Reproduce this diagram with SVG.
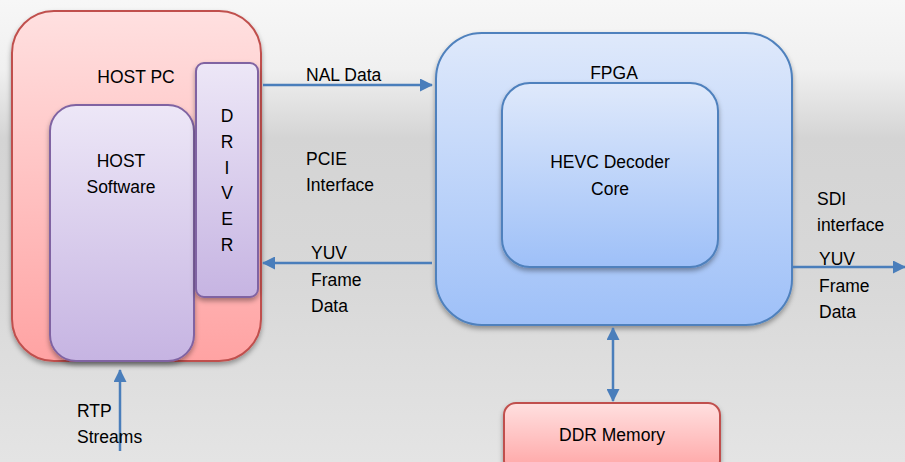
<svg xmlns="http://www.w3.org/2000/svg" width="905" height="462" viewBox="0 0 905 462">
<defs>
<linearGradient id="bg" x1="0" y1="0" x2="0" y2="1">
<stop offset="0" stop-color="#f7f7f7"/>
<stop offset="0.15" stop-color="#f0f0f0"/>
<stop offset="0.3" stop-color="#d4d4d4"/>
<stop offset="0.6" stop-color="#d8d8d8"/>
<stop offset="1" stop-color="#e4e4e4"/>
</linearGradient>
<linearGradient id="red" x1="0" y1="0" x2="0" y2="1">
<stop offset="0" stop-color="#ffe0e0"/>
<stop offset="1" stop-color="#ffa3a3"/>
</linearGradient>
<linearGradient id="purple" x1="0" y1="0" x2="0" y2="1">
<stop offset="0" stop-color="#ede7f7"/>
<stop offset="1" stop-color="#c6b4e2"/>
</linearGradient>
<linearGradient id="blue" x1="0" y1="0" x2="0" y2="1">
<stop offset="0" stop-color="#dfe9fb"/>
<stop offset="1" stop-color="#9ec0f8"/>
</linearGradient>
<filter id="sh" x="-10%" y="-10%" width="120%" height="125%">
<feDropShadow dx="0" dy="3" stdDeviation="2.5" flood-color="#000" flood-opacity="0.35"/>
</filter>
<marker id="ah" markerWidth="13" markerHeight="13" viewBox="0 0 13 13" refX="12" refY="6.5" orient="auto" markerUnits="userSpaceOnUse">
<path d="M0,0 L13,6.5 L0,13 z" fill="#4a7ebb"/>
</marker>
<marker id="ahs" markerWidth="13" markerHeight="13" viewBox="0 0 13 13" refX="1" refY="6.5" orient="auto" markerUnits="userSpaceOnUse">
<path d="M13,0 L0,6.5 L13,13 z" fill="#4a7ebb"/>
</marker>
</defs>
<style>
text{font-family:"Liberation Sans",Arial,sans-serif;font-size:17.5px;fill:#000}
.c{text-anchor:middle}
.red{fill:url(#red);stroke:#c0504d;stroke-width:2}
.pur{fill:url(#purple);stroke:#8064a2;stroke-width:2}
.blu{fill:url(#blue);stroke:#4f81bd;stroke-width:2}
.ln{stroke:#4a7ebb;stroke-width:2.5;fill:none}
</style>
<rect x="0" y="0" width="905" height="462" fill="url(#bg)"/>

<g id="host-pc">
<rect class="red" x="12" y="11" width="249" height="350" rx="42" filter="url(#sh)"/>
<text class="c" x="136" y="83">HOST PC</text>
</g>
<g id="host-software">
<rect class="pur" x="50" y="105" width="144" height="256" rx="26" filter="url(#sh)"/>
<text class="c" x="121" y="167">HOST</text>
<text class="c" x="121" y="193">Software</text>
</g>
<g id="driver">
<rect class="pur" x="196" y="63" width="62" height="234" rx="8" filter="url(#sh)"/>
<text class="c" x="227" y="122">D</text>
<text class="c" x="227" y="148">R</text>
<text class="c" x="227" y="174">I</text>
<text class="c" x="227" y="199">V</text>
<text class="c" x="227" y="225">E</text>
<text class="c" x="227" y="251">R</text>
</g>
<g id="fpga">
<rect class="blu" x="436" y="33" width="356" height="292" rx="46" filter="url(#sh)"/>
<text class="c" x="614" y="79">FPGA</text>
</g>
<g id="hevc-core">
<rect class="blu" x="502" y="83" width="216" height="184" rx="28" filter="url(#sh)"/>
<text class="c" x="610" y="168">HEVC Decoder</text>
<text class="c" x="610" y="195">Core</text>
</g>
<g id="ddr-memory">
<rect class="red" x="504" y="403" width="216" height="70" rx="12" filter="url(#sh)"/>
<text class="c" x="612" y="441">DDR Memory</text>
</g>

<g id="connectors">
<line class="ln" x1="263" y1="85" x2="432" y2="85" marker-end="url(#ah)"/>
<line class="ln" x1="432" y1="263" x2="263" y2="263" marker-end="url(#ah)"/>
<line class="ln" x1="792" y1="267" x2="905" y2="267" marker-end="url(#ah)"/>
<line class="ln" x1="613" y1="328" x2="613" y2="401" marker-start="url(#ahs)" marker-end="url(#ah)"/>
<line class="ln" x1="120" y1="451" x2="120" y2="370" marker-end="url(#ah)"/>
</g>

<g id="labels">
<text x="306" y="81">NAL Data</text>
<text x="306" y="165">PCIE</text>
<text x="306" y="191">Interface</text>
<text x="311" y="259">YUV</text>
<text x="311" y="286">Frame</text>
<text x="311" y="312">Data</text>
<text x="817" y="205">SDI</text>
<text x="817" y="231">interface</text>
<text x="819" y="265">YUV</text>
<text x="819" y="292">Frame</text>
<text x="819" y="318">Data</text>
<text x="77" y="417">RTP</text>
<text x="77" y="443">Streams</text>
</g>
</svg>
